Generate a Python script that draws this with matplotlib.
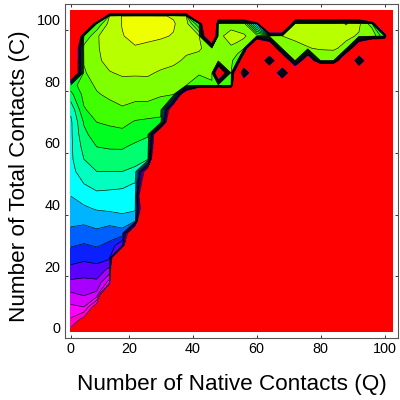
import numpy as np
import matplotlib
matplotlib.use('Agg')
import matplotlib.pyplot as plt
from matplotlib.transforms import ScaledTranslation

plt.rcParams['font.family'] = ['Liberation Sans', 'DejaVu Sans']

# grid of the surface (unvisited cells are R, far below the first contour)
R = -40
q_values = [1.9, 6, 10, 14, 18, 22, 26, 30, 34, 38, 42, 46, 48, 52, 54, 56, 60, 64, 68, 72, 76, 80, 84, 88, 92, 96, 100, 102.4]
c_values = [1.9, 6, 10, 14, 18, 22, 26, 30, 34, 38, 42, 46, 50, 54, 58, 62, 66, 70, 74, 79, 82, 86, 90, 94, 98, 102, 104.5, 106.2]

# each row starts at the first Q, whatever is missing on the right is R
row_c2 = [0.5, -2, -5]
row_c6 = [1.9, 0.6, -2, -10]
row_c10 = [2.8, 3.0, 0, -10]
row_c14 = [3.8, 4.1, 3.7, -6]
row_c18 = [4.8, 4.75, 4.8, 2.5, -30]
row_c22 = [5.7, 5.45, 5.6, 4.7]
row_c26 = [6.4, 6.25, 6.4, 6.2, -20]
row_c30 = [7.1, 6.9, 7.1, 6.8, 5, -20]
row_c34 = [7.8, 7.6, 7.8, 7.4, 7.6, -8]
row_c38 = [8.2, 8.2, 8.4, 8.4, 8.6, 8.6, -30]
row_c42 = [8.6, 8.85, 9.1, 9.2, 9.3, 9.1, -10]
row_c46 = [9.0, 9.4, 9.75, 9.7, 9.7, 9.4, -18]
row_c50 = [9.4, 10.0, 10.35, 10.3, 10.2, 9.95, -8]
row_c54 = [9.7, 10.5, 11, 11, 11, 10.8, -3, -30]
row_c58 = [9.8, 11.0, 11.5, 11.55, 11.6, 11.3, 11.3, -25]
row_c62 = [9.8, 11.35, 12, 12.1, 12.1, 11.8, 11.6, -15]
row_c66 = [9.8, 11.75, 12.5, 12.65, 12.7, 12.4, 12.1, -12]
row_c70 = [9.8, 12.1, 13, 13.15, 13.3, 12.9, 12.8, 12.7, -14]
row_c74 = [10.2, 12.9, 13.4, 13.6, 13.85, 13.6, 13.5, 13.4, -6, -30]
row_c79 = [11.7, 13.3, 13.9, 14.2, 14.45, 14.35, 14.4, 14.1, 14.05, -8]
row_c82 = [12.5, 13.55, 14.15, 14.5, 14.75, 14.7, 14.75, 14.5, 14.3, 14, 13, 13.8, 14, 13.5, R, -15, R, R, -15]
row_c86 = [-15, 13.85, 14.6, 14.95, 15.1, 15.1, 15.1, 14.9, 14.7, 14.4, 14.2, 14.3, -14, 14, -15, 13, -15, -15, 13, -15, R, R, R, R, -15]
row_c90 = [-15, 14.1, 14.85, 15.25, 15.4, 15.5, 15.4, 15.3, 15.2, 14.85, 14.7, 14.6, 14.7, 14.3, 13, -15, -15, 11, -15, 14, -10, 14.2, 14.2, -20, 12, -15]
row_c94 = [-15, 14.4, 14.9, 15.4, 15.6, 15.9, 15.8, 15.7, 15.6, 15.2, 15.1, 14.6, 14.7, 14.9, 14.8, 14.6, R, -15, 14.5, 14.7, 14.95, 15.1, 15.15, 14.7, -15]
row_c98 = [R, 13, 14.9, 15.5, 15.95, 16.3, 16.2, 16.1, 15.95, 15.4, 15.1, -20, 14.8, 15.3, 15.2, 15.1, 14.5, 14.6, 15, 15.2, 15.3, 15.35, 15.3, 15.2, 14.9, 15, 12]
row_c102 = [R, R, 13, 15.4, 16.05, 16.6, 16.6, 16.35, 16.1, 15.4, 12, R, 14.5, 14.7, 14.6, 14.5, 8, R, R, 15.2, 15.3, 15.3, 15.3, 16.1, 15.2, 13.5]
row_c104 = [R, R, R, 15.3, 16.05, 16.3, 16.3, 16.1, 15.9, 15, R, R, -12, -12, -12, -12, R, R, R, -12, -12, -12, -12, -12, -12]
row_c106 = [R, R, R, -15, -15, -15, -15, -15, -15, -15]

rows = [row_c2, row_c6, row_c10, row_c14, row_c18, row_c22, row_c26, row_c30, row_c34, row_c38,
        row_c42, row_c46, row_c50, row_c54, row_c58, row_c62, row_c66, row_c70, row_c74, row_c79,
        row_c82, row_c86, row_c90, row_c94, row_c98, row_c102, row_c104, row_c106]

band_colors = ['#ff0000', '#ff00c0', '#ff00ff', '#d800ff', '#a800ff', '#5a00ff', '#0a20ff', '#0060ff',
               '#00b4ff', '#00ffff', '#00ffc0', '#00ff70', '#00ff20', '#40ff00', '#80ff00', '#b8ff00', '#f0ff00']
contour_levels = list(range(1, 17))

x_ticks = [1.9, 20, 40, 60, 80, 100]
x_tick_labels = ['0', '20', '40', '60', '80', '100']
y_ticks = [0, 20, 40, 60, 80, 100]
y_tick_labels = ['0', '20', '40', '60', '80', '100']

Z = np.array([r + [R] * (len(q_values) - len(r)) for r in rows])

fig = plt.figure(figsize=(4, 4), dpi=100)
ax = fig.add_axes([0.1618, 0.1558, 0.8332, 0.8342])

ax.contourf(q_values, c_values, Z, levels=[-100] + contour_levels + [100], colors=band_colors)
ax.contour(q_values, c_values, Z, levels=contour_levels, colors='black', linewidths=0.45, linestyles='solid')

ax.set_xlim(0, 104.2)
ax.set_ylim(0, 108.4)
ax.set_xticks(x_ticks)
ax.set_xticklabels(x_tick_labels)
ax.set_yticks(y_ticks)
ax.set_yticklabels(y_tick_labels)
ax.tick_params(direction='in', length=2, width=0.7, color='#333333', top=True, right=True, labelsize=10.4, pad=3)

# the y tick labels sit a little above their ticks in the original
shift = ScaledTranslation(0, 10 / 100, fig.dpi_scale_trans)
for label in ax.get_yticklabels():
    label.set_transform(label.get_transform() + shift)

for side in ax.spines.values():
    side.set_linewidth(0.8)
    side.set_color('#555555')

ax.set_xlabel('Number of Native Contacts (Q)', fontsize=16.2, va='center')
ax.set_ylabel('Number of Total Contacts (C)', fontsize=16.2, va='center')
ax.xaxis.set_label_coords(0.502, -0.14)
ax.yaxis.set_label_coords(-0.137, 0.485)

plt.savefig('out.png', dpi=100)
